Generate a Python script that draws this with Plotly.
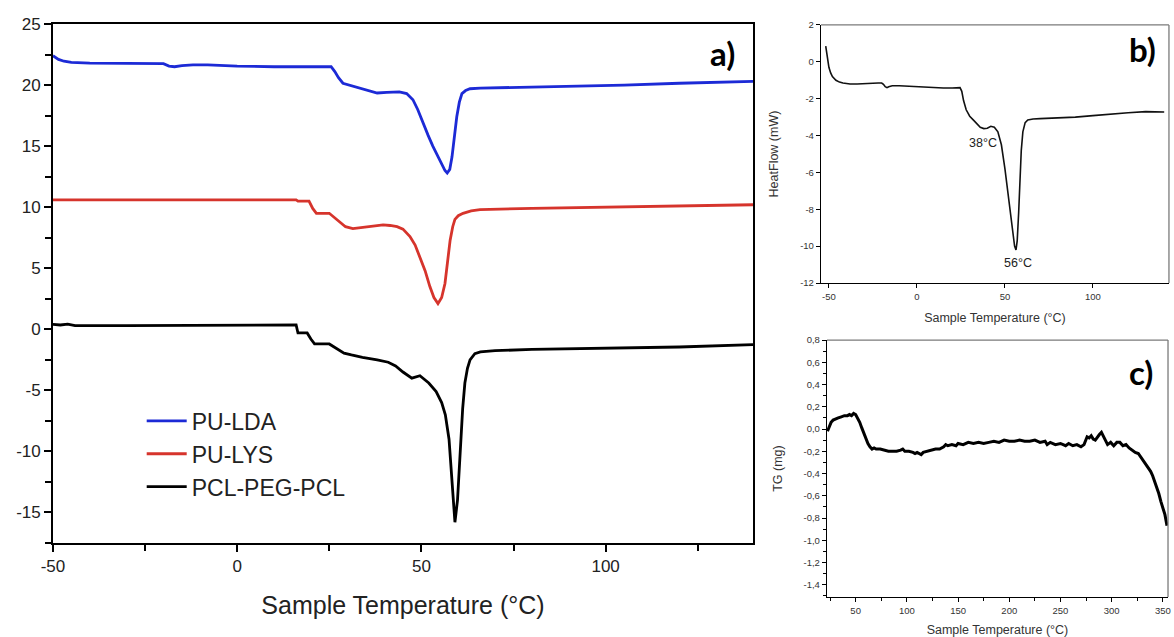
import plotly.graph_objects as go

# ---------------- Panel a) DSC of three materials ----------------
lda_t = [-50, -48.5, -47, -45, -40, -30, -20, -18.5, -17, -15, -12, -8, -4, 0, 10, 20, 25.5, 26.5, 27.5,
         28.7, 31, 33.3, 35.5, 38, 40.6, 44, 46, 47.7, 49, 50.4, 51.8, 53.1, 54.4, 55.6, 56.4, 57, 57.7,
         58.3, 59, 59.6, 60.3, 61, 62, 63.2, 66, 75, 90, 105, 120, 140]
lda_hf = [22.4, 22.1, 21.95, 21.85, 21.8, 21.8, 21.75, 21.55, 21.5, 21.6, 21.65, 21.65, 21.6, 21.55, 21.5,
          21.5, 21.5, 21.1, 20.6, 20.15, 19.95, 19.8, 19.6, 19.35, 19.4, 19.45, 19.3, 18.8, 18.0, 16.9,
          15.9, 15.0, 14.2, 13.5, 13.0, 12.8, 13.1, 14.1, 15.8, 17.4, 18.6, 19.3, 19.55, 19.7, 19.75,
          19.8, 19.9, 20.0, 20.15, 20.3]

lys_t = [-50, 16, 16.5, 19.5, 20.5, 21.5, 25, 26.5, 28, 29.4, 31.4, 33, 35.2, 37.5, 39.6, 41.5, 43.4, 45,
         46.9, 48.3, 49.6, 51, 52.3, 53.4, 54.5, 55.5, 56.4, 57.1, 57.8, 58.5, 59.1, 60, 61.3, 63.5, 65.9,
         80, 100, 120, 140]
lys_hf = [10.6, 10.6, 10.5, 10.5, 9.9, 9.5, 9.5, 9.1, 8.7, 8.4, 8.25, 8.3, 8.4, 8.5, 8.55, 8.5, 8.4, 8.2,
          7.6, 6.9, 5.95, 4.8, 3.5, 2.6, 2.1, 2.6, 3.75, 5.5, 7.3, 8.4, 9.0, 9.3, 9.5, 9.7, 9.8,
          9.9, 10.0, 10.1, 10.2]

pcl_t = [-50, -48, -46, -44, -30, 0, 10, 16, 16.5, 19, 20, 21, 25, 27, 29, 31, 34, 38, 41, 43, 45, 47.4,
         49.6, 52, 54, 55.5, 56.5, 57.5, 58.3, 59.1, 59.8, 60.5, 61.2, 61.8, 62.5, 63.2, 64.5, 66, 70, 80,
         100, 120, 140]
pcl_hf = [0.4, 0.35, 0.42, 0.3, 0.3, 0.3, 0.35, 0.35, -0.3, -0.3, -0.8, -1.2, -1.2, -1.6, -1.95, -2.1,
          -2.3, -2.5, -2.7, -3.0, -3.5, -4.0, -3.8, -4.4, -5.1, -6.0, -7.0, -9.0, -12.6, -15.8, -14.0,
          -9.9, -6.5, -4.4, -3.2, -2.5, -2.0, -1.85, -1.75, -1.65, -1.55, -1.45, -1.25]

a_xticks = [-50, 0, 50, 100]
a_xlabels = ["-50", "0", "50", "100"]
a_yticks = [-15, -10, -5, 0, 5, 10, 15, 20, 25]
a_ylabels = ["-15", "-10", "-5", "0", "5", "10", "15", "20", "25"]

# ---------------- Panel b) DSC single sample ----------------
b_t = [-51.8, -51, -50, -49, -48, -46, -44, -42, -38, -34, -30, -26, -22, -20, -19, -18, -17, -16, -14,
       -10, -5, 0, 5, 10, 15, 20, 24.5, 25.5, 26.5, 28, 30, 32, 34, 36, 38, 40, 42, 44, 46, 48, 50, 51.5,
       53, 54.5, 55.5, 56.3, 57, 57.8, 58.5, 59.3, 60.2, 61.5, 63, 66, 70, 80, 90, 100, 110, 120, 130,
       140.5]
b_hf = [0.85, 0.2, -0.3, -0.6, -0.8, -1.0, -1.1, -1.15, -1.2, -1.2, -1.17, -1.18, -1.15, -1.15, -1.22,
        -1.35, -1.4, -1.35, -1.3, -1.3, -1.33, -1.36, -1.38, -1.4, -1.42, -1.42, -1.4, -1.6, -2.1, -2.6,
        -2.95, -3.15, -3.35, -3.55, -3.62, -3.6, -3.5, -3.55, -3.8, -4.5, -5.8, -7.0, -8.3, -9.4, -10.0,
        -10.2, -9.7, -8.2, -6.5, -4.8, -3.8, -3.3, -3.15, -3.1, -3.08, -3.05, -3.0, -2.92, -2.82, -2.76,
        -2.7, -2.72]
b_peaks_t = [37.5, 57.5]
b_peaks_hf = [-4.43, -10.9]
b_peak_labels = ["38°C", "56°C"]
b_xticks = [-50, 0, 50, 100]
b_xlabels = ["-50", "0", "50", "100"]
b_yticks = [-12, -10, -8, -6, -4, -2, 0, 2]
b_ylabels = ["-12", "-10", "-8", "-6", "-4", "-2", "0", "2"]

# ---------------- Panel c) TG ----------------
c_t = [22.5, 24, 26, 28, 30, 33, 36, 39, 42, 44, 46, 48, 50, 52, 54, 56, 58, 60, 62, 64, 66, 68, 70, 74,
       78, 82, 86, 90, 94, 96, 98, 102, 106, 108, 110, 112, 114, 116, 120, 124, 128, 132, 136, 138, 140,
       144, 148, 150, 155, 160, 165, 170, 175, 180, 185, 190, 195, 200, 205, 210, 215, 220, 225, 230,
       235, 237, 240, 245, 250, 255, 258, 262, 266, 270, 273, 276, 278, 280, 282, 284, 286, 288, 290,
       292, 294, 296, 299, 302, 305, 308, 311, 314, 317, 320, 323, 326, 329, 332, 335, 338, 340, 342,
       344, 346, 348, 350, 352, 354]
c_tg = [-0.02, 0.02, 0.06, 0.08, 0.09, 0.10, 0.11, 0.12, 0.12, 0.13, 0.12, 0.14, 0.13, 0.10, 0.06, 0.01,
        -0.04, -0.09, -0.13, -0.16, -0.18, -0.17, -0.18, -0.18, -0.19, -0.20, -0.20, -0.20, -0.19, -0.18,
        -0.20, -0.20, -0.21, -0.22, -0.21, -0.22, -0.23, -0.21, -0.20, -0.19, -0.18, -0.18, -0.16, -0.14,
        -0.15, -0.14, -0.15, -0.13, -0.14, -0.12, -0.13, -0.12, -0.13, -0.12, -0.11, -0.12, -0.10, -0.11,
        -0.11, -0.10, -0.11, -0.11, -0.10, -0.12, -0.11, -0.14, -0.12, -0.14, -0.13, -0.15, -0.13, -0.15,
        -0.14, -0.16, -0.14, -0.07, -0.08, -0.06, -0.09, -0.10, -0.07, -0.05, -0.03, -0.07, -0.11, -0.14,
        -0.12, -0.15, -0.12, -0.12, -0.15, -0.14, -0.17, -0.19, -0.21, -0.22, -0.26, -0.30, -0.33, -0.38,
        -0.42, -0.47, -0.53, -0.58, -0.65, -0.71, -0.77, -0.87]
c_xticks = [50, 100, 150, 200, 250, 300, 350]
c_xlabels = ["50", "100", "150", "200", "250", "300", "350"]
c_yticks = [-1.4, -1.2, -1.0, -0.8, -0.6, -0.4, -0.2, 0.0, 0.2, 0.4, 0.6, 0.8]
c_ylabels = ["-1,4", "-1,2", "-1,0", "-0,8", "-0,6", "-0,4", "-0,2", "0,0", "0,2", "0,4", "0,6", "0,8"]

FONT = "Liberation Sans, Arial, sans-serif"

fig = go.Figure()
fig.add_trace(go.Scatter(x=lda_t, y=lda_hf, mode="lines", name="PU-LDA",
                         line=dict(color="#1c2ad6", width=2.8), xaxis="x", yaxis="y"))
fig.add_trace(go.Scatter(x=lys_t, y=lys_hf, mode="lines", name="PU-LYS",
                         line=dict(color="#d6342c", width=2.8), xaxis="x", yaxis="y"))
fig.add_trace(go.Scatter(x=pcl_t, y=pcl_hf, mode="lines", name="PCL-PEG-PCL",
                         line=dict(color="#000000", width=2.8), xaxis="x", yaxis="y"))
fig.add_trace(go.Scatter(x=b_t, y=b_hf, mode="lines", showlegend=False,
                         line=dict(color="#111111", width=1.6), xaxis="x2", yaxis="y2"))
fig.add_trace(go.Scatter(x=c_t, y=c_tg, mode="lines", showlegend=False,
                         line=dict(color="#000000", width=3), xaxis="x3", yaxis="y3"))

big_tick = dict(family=FONT, size=17, color="#222222")
small_tick = dict(family=FONT, size=9.5, color="#333333")
small_title = dict(family=FONT, size=12.5, color="#333333")

common = dict(showgrid=False, zeroline=False, showline=True, linecolor="#000000", ticks="outside",
              tickcolor="#000000", automargin=False)

fig.update_layout(
    width=1174, height=637,
    margin=dict(l=0, r=0, t=0, b=0, autoexpand=False),
    paper_bgcolor="white", plot_bgcolor="white",
    legend=dict(x=0.1207, y=0.373, xanchor="left", yanchor="top", bgcolor="rgba(0,0,0,0)",
                font=dict(family=FONT, size=23, color="#222222"), tracegroupgap=0, itemwidth=40),
    xaxis=dict(common, domain=[0.0451, 0.6414], range=[-50, 140], anchor="y", mirror=True,
               linewidth=1.6, tickwidth=1.5, ticklen=7, tickmode="array", tickvals=a_xticks,
               ticktext=a_xlabels, tickfont=big_tick,
               minor=dict(tickmode="linear", tick0=-50, dtick=25, ticks="outside", ticklen=6,
                          tickwidth=1.5, tickcolor="#000000"),
               title=dict(text="Sample Temperature (°C)", font=dict(family=FONT, size=25, color="#222222"),
                          standoff=21)),
    yaxis=dict(common, domain=[0.1476, 0.9623], range=[-17.5, 25], anchor="x", mirror=True,
               linewidth=1.6, tickwidth=1.5, ticklen=7, tickmode="array", tickvals=a_yticks,
               ticktext=a_ylabels, tickfont=big_tick,
               minor=dict(tickmode="linear", tick0=0, dtick=2.5, ticks="outside", ticklen=6,
                          tickwidth=1.5, tickcolor="#000000")),
    xaxis2=dict(common, domain=[0.6993, 0.9957], range=[-54.5, 143.2], anchor="y2",
                linewidth=1.4, tickwidth=1.2, ticklen=4, tickmode="array", tickvals=b_xticks,
                ticktext=b_xlabels, tickfont=small_tick,
                title=dict(text="Sample Temperature (°C)", font=small_title, standoff=12)),
    yaxis2=dict(common, domain=[0.5557, 0.9608], range=[-12, 2], anchor="x2",
                linewidth=1.4, tickwidth=1.2, ticklen=4, tickmode="array", tickvals=b_yticks,
                ticktext=b_ylabels, tickfont=small_tick,
                title=dict(text="HeatFlow (mW)", font=small_title, standoff=18)),
    xaxis3=dict(common, domain=[0.7044, 0.9949], range=[22, 355], anchor="y3",
                linewidth=1.4, tickwidth=1.2, ticklen=4, tickmode="array", tickvals=c_xticks,
                ticktext=c_xlabels, tickfont=small_tick,
                minor=dict(tickmode="linear", tick0=25, dtick=25, ticks="outside", ticklen=3,
                           tickwidth=1, tickcolor="#000000"),
                title=dict(text="Sample Temperature (°C)", font=small_title, standoff=12)),
    yaxis3=dict(common, domain=[0.0628, 0.4662], range=[-1.51, 0.8], anchor="x3",
                linewidth=1.4, tickwidth=1.2, ticklen=4, tickmode="array", tickvals=c_yticks,
                ticktext=c_ylabels, tickfont=small_tick,
                minor=dict(tickmode="linear", tick0=0, dtick=0.1, ticks="outside", ticklen=3,
                           tickwidth=1, tickcolor="#000000"),
                title=dict(text="TG (mg)", font=small_title, standoff=18)),
)

# grey frame edges (top and right) of panels b and c
for xr, yr in (("x2 domain", "y2 domain"), ("x3 domain", "y3 domain")):
    fig.add_shape(type="line", xref=xr, yref=yr, x0=0, x1=1, y0=1, y1=1,
                  line=dict(color="#7a7a7a", width=1.3))
    fig.add_shape(type="line", xref=xr, yref=yr, x0=1, x1=1, y0=0, y1=1,
                  line=dict(color="#7a7a7a", width=1.3))

# peak labels in panel b
for t, h, lab in zip(b_peaks_t, b_peaks_hf, b_peak_labels):
    fig.add_annotation(x=t, y=h, xref="x2", yref="y2", text=lab, showarrow=False,
                       xanchor="center", yanchor="middle",
                       font=dict(family=FONT, size=12.5, color="#222222"))

# panel letters
panel_font = dict(family="Lato, Liberation Sans, sans-serif", size=33, color="#000000")
for txt, xr, yr, px, py in (("<b>a)</b>", "x domain", "y domain", 0.956, 0.944),
                            ("<b>b)</b>", "x2 domain", "y2 domain", 0.925, 0.905),
                            ("<b>c)</b>", "x3 domain", "y3 domain", 0.92, 0.875)):
    fig.add_annotation(x=px, y=py, xref=xr, yref=yr, text=txt, showarrow=False,
                       xanchor="center", yanchor="middle", font=panel_font)

fig.write_html("out.html", post_script="document.body.style.margin='0';",
               config={"displayModeBar": False})
